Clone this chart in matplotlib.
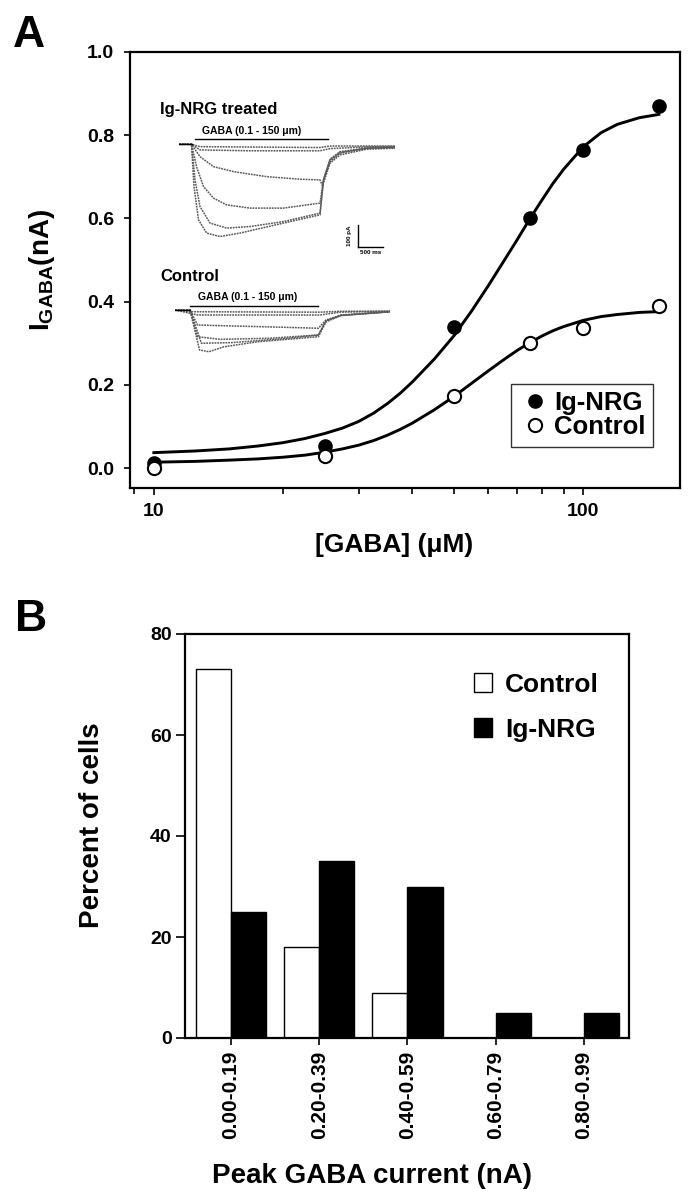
import numpy as np
import matplotlib
matplotlib.use('Agg')
import matplotlib.pyplot as plt
from matplotlib.ticker import FixedLocator, NullFormatter, FuncFormatter

plt.rcParams['font.family'] = ['Liberation Sans', 'DejaVu Sans']
plt.rcParams['font.weight'] = 'bold'
plt.rcParams['mathtext.fontset'] = 'custom'
plt.rcParams['mathtext.rm'] = 'Liberation Sans:bold'
plt.rcParams['mathtext.bf'] = 'Liberation Sans:bold'
plt.rcParams['mathtext.it'] = 'Liberation Sans:bold:italic'

# ---------------- Panel A data ----------------
gaba_conc = [10, 25, 50, 75, 100, 150]
i_ignrg = [0.012, 0.054, 0.340, 0.600, 0.765, 0.870]
i_control = [0.000, 0.030, 0.172, 0.300, 0.337, 0.390]

fit_x_ignrg = [10, 12.5, 15, 17.5, 20, 22.5, 25, 27.5, 30, 32.5, 35, 37.5, 40, 45, 50, 55,
               60, 65, 70, 75, 80, 85, 90, 100, 110, 120, 135, 150]
fit_y_ignrg = [0.037, 0.041, 0.046, 0.053, 0.061, 0.071, 0.083, 0.096, 0.112, 0.132, 0.155,
               0.180, 0.207, 0.262, 0.318, 0.378, 0.437, 0.494, 0.547, 0.598, 0.643, 0.684,
               0.718, 0.772, 0.806, 0.826, 0.842, 0.850]
fit_x_control = [10, 12.5, 15, 17.5, 20, 22.5, 25, 27.5, 30, 32.5, 35, 37.5, 40, 45, 50, 55,
                 60, 65, 70, 75, 80, 85, 90, 100, 110, 120, 135, 150]
fit_y_control = [0.014, 0.016, 0.019, 0.022, 0.026, 0.031, 0.038, 0.046, 0.055, 0.066, 0.079,
                 0.093, 0.108, 0.140, 0.172, 0.204, 0.233, 0.259, 0.282, 0.301, 0.317, 0.330,
                 0.340, 0.355, 0.364, 0.369, 0.374, 0.376]

# Inset traces (time in ms, current in pA)
ig_traces_t = [
    [0, 250, 420, 2820, 3020, 4320],
    [0, 250, 420, 1420, 2820, 3020, 3750, 4320],
    [0, 250, 420, 690, 1090, 1750, 2420, 2820, 2870, 3020, 3220, 3750, 4320],
    [0, 250, 350, 490, 690, 950, 1420, 2090, 2820, 2890, 3020, 3220, 3750, 4320],
    [0, 250, 320, 420, 620, 950, 1420, 2090, 2820, 2890, 3020, 3220, 3750, 4320],
    [0, 250, 300, 390, 553, 820, 1220, 2090, 2820, 2890, 3020, 3220, 3750, 4320],
]
ig_traces_i = [
    [0, 0, -11, -15, -8, -8],
    [0, 0, -26, -30, -30, -20, -12, -10],
    [0, 0, -57, -103, -126, -149, -161, -164, -192, -87, -49, -23, -18],
    [0, 0, -103, -195, -248, -279, -294, -294, -271, -164, -80, -41, -18, -15],
    [0, 0, -164, -287, -363, -386, -379, -356, -317, -164, -72, -38, -18, -14],
    [0, 0, -195, -348, -409, -425, -409, -363, -325, -164, -69, -34, -18, -14],
]
ctl_traces_t = [
    [0, 300, 2900, 3300, 4300],
    [0, 300, 450, 2900, 3300, 4300],
    [0, 300, 450, 900, 2264, 2868, 3019, 3321, 4300],
    [0, 300, 453, 906, 1887, 2868, 3019, 3321, 4300],
    [0, 300, 528, 1132, 2264, 2868, 3019, 3321, 4300],
    [0, 300, 491, 679, 981, 1661, 2868, 3019, 3321, 4300],
]
ctl_traces_i = [
    [0, -8, -10, -6, -5],
    [0, -15, -23, -23, -10, -6],
    [0, 0, -69, -72, -80, -84, -46, -23, -8],
    [0, 0, -123, -135, -130, -115, -50, -25, -8],
    [0, 0, -153, -150, -130, -115, -50, -25, -8],
    [0, 0, -184, -192, -169, -146, -123, -55, -25, -8],
]

# ---------------- Panel B data ----------------
bins = ['0.00-0.19', '0.20-0.39', '0.40-0.59', '0.60-0.79', '0.80-0.99']
pct_control = [73, 18, 9, 0, 0]
pct_ignrg = [25, 35, 30, 5, 5]

W, H = 689, 1199
fig = plt.figure(figsize=(W / 100, H / 100), dpi=100)


def px_rect(x0, y0, x1, y1):
    return [x0 / W, 1 - y1 / H, (x1 - x0) / W, (y1 - y0) / H]


# ================= Panel A =================
axA = fig.add_axes(px_rect(130, 52, 680, 488))
axA.set_xscale('log')
axA.plot(fit_x_ignrg, fit_y_ignrg, color='black', lw=2.1, zorder=2)
axA.plot(fit_x_control, fit_y_control, color='black', lw=2.1, zorder=2)
axA.plot(gaba_conc, i_ignrg, 'o', color='black', ms=9.5, zorder=3, label='Ig-NRG')
axA.plot(gaba_conc, i_control, 'o', mfc='white', mec='black', mew=1.5, ms=9.5, zorder=4,
         label='Control')
axA.set_xlim(8.8, 168)
axA.set_ylim(-0.048, 1.0)
axA.set_yticks([0.0, 0.2, 0.4, 0.6, 0.8, 1.0])
axA.yaxis.set_major_formatter(FuncFormatter(lambda v, p: f'{v:.1f}'))
axA.xaxis.set_major_locator(FixedLocator([10, 100]))
axA.xaxis.set_major_formatter(FuncFormatter(lambda v, p: f'{v:.0f}'))
axA.xaxis.set_minor_locator(FixedLocator([9, 20, 30, 40, 50, 60, 70, 80, 90]))
axA.xaxis.set_minor_formatter(NullFormatter())
axA.tick_params(axis='both', which='major', labelsize=14, width=1.2)
axA.tick_params(axis='y', length=4.5, pad=7)
axA.tick_params(axis='x', which='major', length=5, pad=6)
axA.tick_params(axis='x', which='minor', length=4, width=1.2)
for s in axA.spines.values():
    s.set_linewidth(1.6)
axA.set_ylabel(r'$\mathbf{I}_{\mathbf{GABA}}$(nA)', fontsize=20, fontweight='bold')
axA.yaxis.set_label_coords(-0.133, 0.5)
axA.set_xlabel('[GABA] (μM)', fontsize=19, fontweight='bold')
axA.xaxis.set_label_coords(0.48, -0.103)
legA = axA.legend(loc='lower right', bbox_to_anchor=(0.951, 0.094), borderaxespad=0,
                  frameon=True, fancybox=False, edgecolor='black', handlelength=1.2,
                  handletextpad=0.15, borderpad=0.3, labelspacing=0.0,
                  prop={'weight': 'bold', 'size': 18.5})
legA.get_frame().set_linewidth(1.0)

# Insets (traces)
tr_color = '0.35'
axI = fig.add_axes(px_rect(179, 125, 395, 260))
for t, i in zip(ig_traces_t, ig_traces_i):
    axI.plot(t, i, color=tr_color, lw=1.1, ls=(0, (1.2, 0.6)))
axI.plot([0, 253], [0, 0], color='black', lw=1.0)
axI.plot([320, 2980], [23, 23], color='black', lw=1.0)
axI.text(1450, 40, 'GABA (0.1 - 150 μm)', fontsize=7.5, ha='center', va='bottom')
axI.plot([3580, 3580], [-372, -472], color='black', lw=1.0)
axI.plot([3580, 4080], [-472, -472], color='black', lw=1.0)
axI.text(3400, -420, '100 pA', fontsize=4.5, rotation=90, ha='center', va='center')
axI.text(3830, -500, '500 ms', fontsize=4.5, ha='center', va='center')
axI.set_xlim(0, 4320)
axI.set_ylim(-533, 88.8)
axI.axis('off')
fig.text(160 / W, 1 - 114 / H, 'Ig-NRG treated', fontsize=12, fontweight='bold')

axC = fig.add_axes(px_rect(175, 285, 390, 365))
for t, i in zip(ctl_traces_t, ctl_traces_i):
    axC.plot(t, i, color=tr_color, lw=1.1, ls=(0, (1.2, 0.6)))
axC.plot([-250, 300], [0, 0], color='black', lw=1.0)
axC.plot([300, 2860], [18, 18], color='black', lw=1.0)
axC.text(1450, 35, 'GABA (0.1 - 150 μm)', fontsize=7.5, ha='center', va='bottom')
axC.set_xlim(0, 4300)
axC.set_ylim(-253, 115)
axC.axis('off')
fig.text(160 / W, 1 - 281 / H, 'Control', fontsize=12, fontweight='bold')

fig.text(13 / W, 1 - 47 / H, 'A', fontsize=32, fontweight='bold')

# ================= Panel B =================
axB = fig.add_axes(px_rect(185, 634, 629, 1038))
x = np.arange(len(bins))
axB.bar(x - 0.2, pct_control, width=0.4, color='white', edgecolor='black', lw=1.0,
        label='Control')
axB.bar(x + 0.2, pct_ignrg, width=0.4, color='black', edgecolor='black', lw=1.0,
        label='Ig-NRG')
axB.set_xlim(-0.52, 4.51)
axB.set_ylim(0, 80)
axB.set_yticks([0, 20, 40, 60, 80])
axB.set_xticks(x)
axB.set_xticklabels(bins, rotation=90, fontsize=15, fontweight='bold')
axB.tick_params(axis='y', labelsize=14, length=6.5, width=1.2, pad=3)
axB.tick_params(axis='x', length=5, width=1.2, pad=4)
for s in axB.spines.values():
    s.set_linewidth(1.6)
axB.set_ylabel('Percent of cells', fontsize=20, fontweight='bold')
axB.yaxis.set_label_coords(-0.18, 0.527)
axB.set_xlabel('Peak GABA current (nA)', fontsize=20, fontweight='bold')
axB.xaxis.set_label_coords(0.421, -0.31)
legB = axB.legend(loc='upper left', bbox_to_anchor=(0.627, 0.93), borderaxespad=0,
                  frameon=False, handlelength=0.68, handleheight=0.72, handletextpad=0.5,
                  labelspacing=0.8, prop={'weight': 'bold', 'size': 19})

fig.text(15 / W, 1 - 631 / H, 'B', fontsize=32, fontweight='bold')

fig.savefig('out.png', dpi=100, facecolor='white')
